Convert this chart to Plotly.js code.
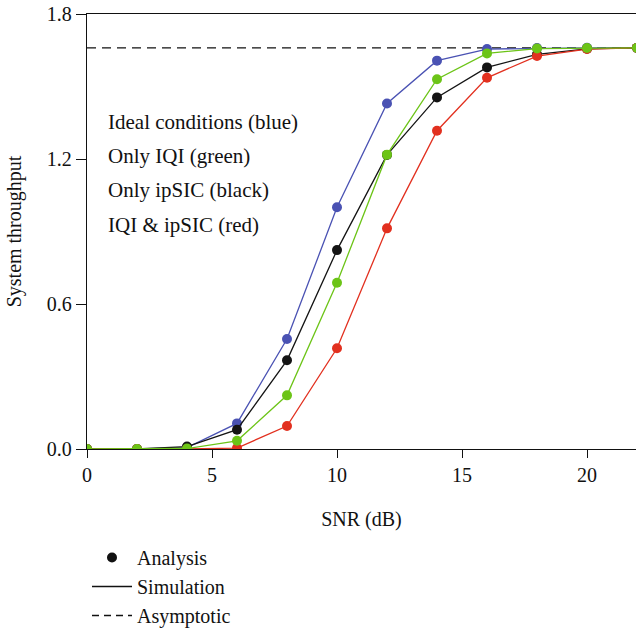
<!DOCTYPE html>
<html>
<head>
<meta charset="utf-8">
<script src="https://cdn.plot.ly/plotly-3.0.1.min.js"></script>
<style>
  html, body { margin: 0; padding: 0; background: #fff; }
  #chart { width: 636px; height: 630px; }
</style>
</head>
<body>
<div id="chart"></div>
<script>
// SNR grid (dB)
const snr = [0, 2, 4, 6, 8, 10, 12, 14, 16, 18, 20, 22];

// System throughput per scenario
const idealBlue   = [0, 0, 0.006, 0.106, 0.455, 1.000, 1.430, 1.607, 1.655, 1.659, 1.660, 1.660];
const onlyIqiGreen = [0, 0, 0.002, 0.034, 0.222, 0.688, 1.218, 1.530, 1.637, 1.657, 1.659, 1.660];
const onlyIpsicBlack = [0, 0, 0.010, 0.080, 0.367, 0.823, 1.217, 1.455, 1.579, 1.633, 1.656, 1.660];
const iqiIpsicRed  = [0, 0, 0.000, 0.004, 0.095, 0.417, 0.913, 1.317, 1.536, 1.626, 1.655, 1.660];

// High-SNR ceiling
const asymptoteX = [0, 22];
const asymptoteY = [1.66, 1.66];

const xTicks = [0, 5, 10, 15, 20];
const yTicks = [0, 0.6, 1.2, 1.8];
const yTickText = ['0.0', '0.6', '1.2', '1.8'];

const scenarioNotes = ['Ideal conditions (blue)', 'Only IQI (green)', 'Only ipSIC (black)', 'IQI &amp; ipSIC (red)'];
const noteY = [1.352, 1.214, 1.070, 0.925];

const FONT = 'Liberation Serif, Times New Roman, serif';
const FS = 20;

function series(y, color) {
  return {
    x: snr, y: y, type: 'scatter', mode: 'lines+markers',
    line: {color: color, width: 1.3},
    marker: {color: color, size: 10},
    showlegend: false, hoverinfo: 'x+y'
  };
}

const traces = [
  {x: asymptoteX, y: asymptoteY, type: 'scatter', mode: 'lines',
   line: {color: '#111', width: 1.3, dash: '9px,6px'}, showlegend: false},
  series(idealBlue, '#4a52b3'),
  series(onlyIpsicBlack, '#141414'),
  series(iqiIpsicRed, '#e2301f'),
  series(onlyIqiGreen, '#6cc417'),
  // legend keys
  {x: [null], y: [null], type: 'scatter', mode: 'markers', name: 'Analysis',
   marker: {color: '#111', size: 10}},
  {x: [null], y: [null], type: 'scatter', mode: 'lines', name: 'Simulation',
   line: {color: '#111', width: 1.3}},
  {x: [null], y: [null], type: 'scatter', mode: 'lines', name: 'Asymptotic',
   line: {color: '#111', width: 1.3, dash: '7px,5px'}}
];

const annotations = scenarioNotes.map((t, i) => ({
  x: 0.75, y: noteY[i], xref: 'x', yref: 'y', text: t, showarrow: false,
  xanchor: 'left', yanchor: 'middle', font: {family: FONT, size: 21, color: '#111'}
}));

const layout = {
  width: 636, height: 630,
  margin: {l: 87, r: 0, t: 14, b: 181},
  paper_bgcolor: '#fff', plot_bgcolor: '#fff',
  font: {family: FONT, size: FS, color: '#111'},
  xaxis: {
    range: [0, 21.96], tickvals: xTicks, ticks: 'outside', ticklen: 8, tickwidth: 1,
    tickcolor: '#111', showline: true, linecolor: '#111', linewidth: 1.3,
    mirror: true, showgrid: false, zeroline: false,
    tickfont: {family: FONT, size: FS},
    title: {text: 'SNR (dB)', font: {family: FONT, size: FS}, standoff: 26}
  },
  yaxis: {
    range: [0, 1.8], tickvals: yTicks, ticktext: yTickText, ticks: 'outside', ticklen: 10,
    tickwidth: 1, tickcolor: '#111', showline: true, linecolor: '#111', linewidth: 1.3,
    showgrid: false, zeroline: false,
    tickfont: {family: FONT, size: FS},
    title: {text: 'System throughput', font: {family: FONT, size: FS}, standoff: 19}
  },
  legend: {
    x: 0, y: 0.146, xref: 'paper', yref: 'container', xanchor: 'left', yanchor: 'top',
    itemwidth: 40,
    bgcolor: 'rgba(0,0,0,0)', font: {family: FONT, size: FS}, tracegroupgap: 0
  },
  annotations: annotations
};

Plotly.newPlot('chart', traces, layout, {displayModeBar: false, staticPlot: true});
</script>
</body>
</html>
